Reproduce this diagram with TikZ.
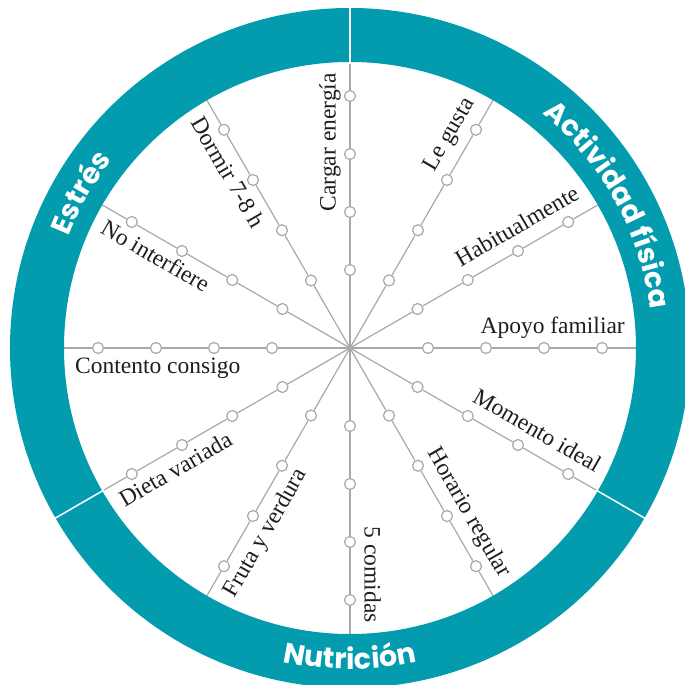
\documentclass[tikz,border=0pt]{standalone}
\usepackage{fontspec}
\usetikzlibrary{calc,decorations.text}
\newfontfamily\labelfont{Liberation Serif}
\newfontfamily\ringfont{Poppins}
\definecolor{ringteal}{HTML}{029CAE}
\definecolor{spokegray}{HTML}{A8A8A8}
\definecolor{labelink}{HTML}{1E1E1E}

\begin{document}
\begin{tikzpicture}[x=1pt, y=1pt,
  dot/.style={circle, draw=spokegray, fill=white, line width=1.2pt, minimum size=11pt, inner sep=0pt},
  spoke/.style={draw=spokegray, line width=1.2pt},
  sep/.style={draw=white, line width=1.5pt},
  lbl/.style={font=\labelfont\fontsize{23.5}{24}\selectfont, text=labelink, inner sep=0pt, text height=16pt, text depth=5pt},
  ringtext/.style={decorate, decoration={text along path, text align=center,
    text={|\ringfont\bfseries\fontsize{28.5}{28.5}\selectfont\color{white}|#1}}}]
\clip (-350,-337) rectangle (335,348);
\fill[ringteal, even odd rule] (0,0) circle (340) (0,0) circle (286);

\coordinate (c) at (0,0);
\coordinate (e0) at (0:286);
\coordinate (e30) at (30:286);
\coordinate (e60) at (60:286);
\coordinate (e90) at (90:286);
\coordinate (e120) at (120:286);
\coordinate (e150) at (150:286);
\coordinate (e180) at (180:286);
\coordinate (e210) at (210:286);
\coordinate (e240) at (240:286);
\coordinate (e270) at (270:286);
\coordinate (e300) at (300:286);
\coordinate (e330) at (330:286);

\node[dot] (d0a) at (0:78){};
\node[dot] (d0b) at (0:136){};
\node[dot] (d0c) at (0:194){};
\node[dot] (d0d) at (0:252){};
\node[dot] (d30a) at (30:78){};
\node[dot] (d30b) at (30:136){};
\node[dot] (d30c) at (30:194){};
\node[dot] (d30d) at (30:252){};
\node[dot] (d60a) at (60:78){};
\node[dot] (d60b) at (60:136){};
\node[dot] (d60c) at (60:194){};
\node[dot] (d60d) at (60:252){};
\node[dot] (d90a) at (90:78){};
\node[dot] (d90b) at (90:136){};
\node[dot] (d90c) at (90:194){};
\node[dot] (d90d) at (90:252){};
\node[dot] (d120a) at (120:78){};
\node[dot] (d120b) at (120:136){};
\node[dot] (d120c) at (120:194){};
\node[dot] (d120d) at (120:252){};
\node[dot] (d150a) at (150:78){};
\node[dot] (d150b) at (150:136){};
\node[dot] (d150c) at (150:194){};
\node[dot] (d150d) at (150:252){};
\node[dot] (d180a) at (180:78){};
\node[dot] (d180b) at (180:136){};
\node[dot] (d180c) at (180:194){};
\node[dot] (d180d) at (180:252){};
\node[dot] (d210a) at (210:78){};
\node[dot] (d210b) at (210:136){};
\node[dot] (d210c) at (210:194){};
\node[dot] (d210d) at (210:252){};
\node[dot] (d240a) at (240:78){};
\node[dot] (d240b) at (240:136){};
\node[dot] (d240c) at (240:194){};
\node[dot] (d240d) at (240:252){};
\node[dot] (d270a) at (270:78){};
\node[dot] (d270b) at (270:136){};
\node[dot] (d270c) at (270:194){};
\node[dot] (d270d) at (270:252){};
\node[dot] (d300a) at (300:78){};
\node[dot] (d300b) at (300:136){};
\node[dot] (d300c) at (300:194){};
\node[dot] (d300d) at (300:252){};
\node[dot] (d330a) at (330:78){};
\node[dot] (d330b) at (330:136){};
\node[dot] (d330c) at (330:194){};
\node[dot] (d330d) at (330:252){};

\draw[spoke](c) -- (d0a) -- (d0b) -- (d0c) -- (d0d) -- (e0);
\draw[spoke](c) -- (d30a) -- (d30b) -- (d30c) -- (d30d) -- (e30);
\draw[spoke](c) -- (d60a) -- (d60b) -- (d60c) -- (d60d) -- (e60);
\draw[spoke](c) -- (d90a) -- (d90b) -- (d90c) -- (d90d) -- (e90);
\draw[spoke](c) -- (d120a) -- (d120b) -- (d120c) -- (d120d) -- (e120);
\draw[spoke](c) -- (d150a) -- (d150b) -- (d150c) -- (d150d) -- (e150);
\draw[spoke](c) -- (d180a) -- (d180b) -- (d180c) -- (d180d) -- (e180);
\draw[spoke](c) -- (d210a) -- (d210b) -- (d210c) -- (d210d) -- (e210);
\draw[spoke](c) -- (d240a) -- (d240b) -- (d240c) -- (d240d) -- (e240);
\draw[spoke](c) -- (d270a) -- (d270b) -- (d270c) -- (d270d) -- (e270);
\draw[spoke](c) -- (d300a) -- (d300b) -- (d300c) -- (d300d) -- (e300);
\draw[spoke](c) -- (d330a) -- (d330b) -- (d330c) -- (d330d) -- (e330);

\node[lbl, rotate=0, anchor=east] (l0) at ($(0:275)+(90:20)$) {Apoyo familiar};
\node[lbl, rotate=30, anchor=east] (l30) at ($(30:275)+(120:20)$) {Habitualmente};
\node[lbl, rotate=60, anchor=east] (l60) at ($(60:275)+(150:20)$) {Le gusta};
\node[lbl, rotate=90, anchor=east] (l90) at ($(90:275)+(180:20)$) {Cargar energía};
\node[lbl, rotate=-60, anchor=west] (l120) at ($(120:275)+(210:20)$) {Dormir 7-8 h};
\node[lbl, rotate=-30, anchor=west] (l150) at ($(150:275)+(240:20)$) {No interfiere};
\node[lbl, rotate=0, anchor=west] (l180) at ($(180:275)+(270:20)$) {Contento consigo};
\node[lbl, rotate=30, anchor=west] (l210) at ($(210:275)+(300:20)$) {Dieta variada};
\node[lbl, rotate=60, anchor=west] (l240) at ($(240:275)+(330:20)$) {Fruta y verdura};
\node[lbl, rotate=-90, anchor=east] (l270) at ($(270:275)+(0:20)$) {5 comidas};
\node[lbl, rotate=-60, anchor=east] (l300) at ($(300:275)+(30:20)$) {Horario regular};
\node[lbl, rotate=-30, anchor=east] (l330) at ($(330:275)+(60:20)$) {Momento ideal};

\coordinate (s90i) at (90:284);
\coordinate (s90o) at (90:345);
\coordinate (s330i) at (330:284);
\coordinate (s330o) at (330:345);
\coordinate (s210i) at (210:284);
\coordinate (s210o) at (210:345);
\draw[sep](s90i) -- (s90o);
\draw[sep](s330i) -- (s330o);
\draw[sep](s210i) -- (s210o);

\path[ringtext=Estrés] (172:303) arc[start angle=172, end angle=128, radius=303];
\path[ringtext=Actividad física] (75:303) arc[start angle=75, end angle=-17, radius=303];
\path[ringtext=Nutrición] (240:321) arc[start angle=240, end angle=300, radius=321];

\end{tikzpicture}
\end{document}
